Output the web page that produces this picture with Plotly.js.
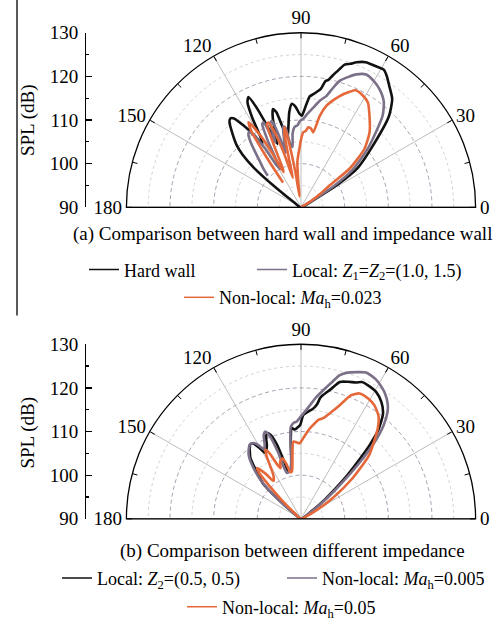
<!DOCTYPE html>
<html><head><meta charset="utf-8">
<script src="https://cdn.plot.ly/plotly-3.0.1.min.js"></script>
<style>html,body{margin:0;padding:0;background:#fff}#chart{width:499px;height:626px}</style>
</head><body><div id="chart"></div>
<script>
const W = 499, H = 626;
const FONT = '"Liberation Serif", "Times New Roman", serif';

// ---- tick labels ----
const angleTicks = [0, 30, 60, 90, 120, 150, 180];
const splTicks = [90, 100, 110, 120, 130];

// ---- legend names ----
const nameHard = 'Hard wall';
const nameLocalA = 'Local: <i>Z</i><sub>1</sub>=<i>Z</i><sub>2</sub>=(1.0, 1.5)';
const nameNonlocalA = 'Non-local: <i>Ma</i><sub>h</sub>=0.023';
const nameLocalB = 'Local: <i>Z</i><sub>2</sub>=(0.5, 0.5)';
const nameNonlocalB1 = 'Non-local: <i>Ma</i><sub>h</sub>=0.005';
const nameNonlocalB2 = 'Non-local: <i>Ma</i><sub>h</sub>=0.05';

// ---- (a) Hard wall ----
const thetaAHard = [28,30,32,35,40,46,50,54,57,59,62,66,69,71,73,74.5,76,77,78,79,80.5,82,84,85.5,87.5,89.5,91,93,95,97,99,101,103,104.5,106,107.5,109,110.5,112.5,114,115.5,117,118.5,120,121.5,123,125,127,128.5,130,133,136,138,140,142,144,146];
const rAHard     = [90,93,100,106,111,119,122.5,124.4,126,126.8,126.6,126.4,125.6,124.8,124.2,122.8,121.5,120.6,119.8,119.5,117.5,116.8,116,115.5,113,111,111.5,113,113.8,112,108.5,106.3,109,112.5,113.4,111.5,108,105.5,110,115,118,117,113.5,108.5,107,109.7,112.8,115.5,116,115.5,113,110.5,108,104,97,92,90];

// ---- (a) Local Z1=Z2=(1.0,1.5) ----
const thetaALocal = [29,31,33,36,41.2,48.3,52,56.4,60,63.9,67.4,70,73,75,77.1,80,83,86,88.5,90.6,92.5,94.5,96.5,98,99.5,101,102.5,104,105.5,107,108.6,110,111.5,112.5,113.7,115,116.5,118.5,120,121.5,123,124.5,126,128,130,132,134,136.5];
const rALocal     = [90,93,99,104.5,110.3,118.1,120.8,122.5,123.4,123.9,123,121.8,120.3,118.3,116.2,114.8,113,111.5,110.3,109.8,108.8,108.5,107,104,104.5,108.5,109,106,103,107,110.9,110.5,106,107,111.3,111,107,100,101,106,109.5,111,110.5,108.5,106,104,102.5,100.5];

// ---- (a) Non-local Ma_h=0.023 ----
const thetaANonlocal = [29,32,35,37.6,38.5,42.7,47.6,53.2,57.5,62,65,67.2,70.8,73.5,75.9,78.4,80.8,82.8,84.8,86.5,88.3,90,91.5,93,94.5,96,97.5,99,100.5,101.5,102.8,104,105.5,107.5,109.5,111,112.2,113.5,115,116.5,118,119.5,121.6,123,124.5,126];
const rANonlocal     = [90,92.5,95.5,98.3,104.2,109.8,113.3,116.2,118.5,119.4,119.6,118.7,117,115.5,114,111.4,107.4,108.2,108.4,107.5,107.2,105.5,103.5,102,100.5,96,92.5,98,105,108.7,107,101,97,103,108.5,110.8,110.6,106,100,99,104,109,112.9,111,104,97];

// ---- (b) Local Z2=(0.5,0.5) ----
const thetaBLocal = [30,36,39,41,43,45,47,49,52,55.5,59.4,63,66,68,71,74.2,77,79.9,81,82,83.7,85.5,88.7,90.5,92.7,94,95.8,97.5,99,101,104.8,106.5,108,110,111.7,113.5,115,118.5,120.5,122.9,125,127,129.8,132,135,137.4,139,140.3,142,143];
const rBLocal     = [90,93,97,100,104,108,113,117,120.5,122.5,123.8,124.2,124.3,123.7,123.2,122.6,120.5,118.8,118,116.5,115.4,114.8,113.8,111.5,110.8,110.5,110.9,108,104,101.5,101.3,104,108,110.5,111.1,110,108.5,107.2,109,110.6,110.5,109.5,108.1,106,103.5,101.6,98,95.2,92,90];

// ---- (b) Non-local Ma_h=0.005 ----
const thetaBNonlocal1 = [30,35,38,40,42,44,46,48.5,51,53,56,58.9,62,66,69,72.8,75,77,80.2,83,85.5,88,90,92.5,94.6,96.5,98,100,103,107.2,109,110.5,112.2,114,116,118,120,122,124.3,127.8,130,133,136,138,140,142,143.5];
const rBNonlocal1     = [90,93,97,100,104,109,114,118.5,121.5,123,124.5,125.5,126.3,126.7,126,125,124,122.3,119.9,118,116.1,114.5,113.5,112.3,112,111,107,103,101.2,101,106,110,111.6,111,109,108,109.5,110.5,110.7,109.6,108.5,106,103,100,96,92,90];

// ---- (b) Non-local Ma_h=0.05 ----
const thetaBNonlocal2 = [27,29,33.4,38.3,43.2,49.7,53,57.2,61,65,68,71.2,74,77.6,80,82.6,85,88.4,91,93,95.6,97.5,99.5,101,103,105,107,109.9,112,114,115.5,117.3,119,121,123,126,128,130.8,132.5,134,136,138,139];
const rBNonlocal2     = [90,94,98.8,105.1,111.5,117.2,119.5,121,121.6,121.7,120.5,117.5,115.5,113.6,113,111.7,110.5,108.5,107.3,107.5,107.8,105,102,101,101,103,104.5,104,102.5,104,106.5,107.8,106,103,101.5,100.7,103,105.4,104,100,96,92,90];

// ---- colours ----
const cBlack = '#111111';
const cGray = '#7b7088';
const cOrange = '#e4683a';

const px = x => x / W;
const py = y => 1 - y / H;

function polarLayout(yTop, yBot) {
  return {
    domain: {x: [px(125), px(477)], y: [py(yBot), py(yTop)]},
    sector: [0, 180],
    bgcolor: 'rgba(0,0,0,0)',
    radialaxis: {range: [90, 130], tickvals: [100, 110, 120], showticklabels: false, ticks: '',
      showline: false, gridcolor: '#9f95aa', griddash: '4px,3px', gridwidth: 0.9},
    angularaxis: {tickvals: angleTicks, ticktext: angleTicks.map(String), ticks: 'inside', ticklen: 5,
      tickcolor: '#000', showline: true, linecolor: '#000', linewidth: 1.3,
      gridcolor: '#bdbdbd', gridwidth: 1, direction: 'counterclockwise', rotation: 0,
      tickfont: {family: FONT, size: 19, color: '#000'}}
  };
}

const traces = [];
// light intermediate circles, baseline and minor angular ticks (decoration)
function decor(sub) {
  [95, 105, 115, 125].forEach(rv => {
    const th = [], rr = [];
    for (let a = 0; a <= 180; a += 2) { th.push(a); rr.push(rv); }
    traces.push({type: 'scatterpolar', subplot: sub, theta: th, r: rr, mode: 'lines',
      line: {color: '#d2d2d2', width: 1, dash: 'dot'}, showlegend: false, hoverinfo: 'skip'});
  });
  traces.push({type: 'scatterpolar', subplot: sub, theta: [0, 0, null, 180, 180], r: [130, 90, null, 90, 130], mode: 'lines',
    line: {color: '#8a8a8a', width: 1.2}, showlegend: false, hoverinfo: 'skip'});
  const th = [], rr = [];
  for (let a = 15; a < 180; a += 30) { th.push(a, a, null); rr.push(128.8, 130, null); }
  traces.push({type: 'scatterpolar', subplot: sub, theta: th, r: rr, mode: 'lines',
    line: {color: '#000', width: 1}, showlegend: false, hoverinfo: 'skip'});
}
decor('polar');
decor('polar2');

function curve(sub, th, r, name, color, leg) {
  traces.push({type: 'scatterpolar', subplot: sub, theta: th, r: r, mode: 'lines', name: name,
    line: {color: color, width: 2.6, shape: 'spline', smoothing: 0.6}, showlegend: false, hoverinfo: 'skip'});
  // legend entry with the thinner legend line of the reference
  traces.push({type: 'scatterpolar', subplot: sub, theta: [null], r: [null], mode: 'lines', name: name,
    line: {color: color, width: 1.5}, legend: leg, showlegend: true, hoverinfo: 'skip'});
}
curve('polar', thetaAHard, rAHard, nameHard, cBlack, 'legend');
curve('polar', thetaALocal, rALocal, nameLocalA, cGray, 'legend2');
curve('polar', thetaANonlocal, rANonlocal, nameNonlocalA, cOrange, 'legend3');
curve('polar2', thetaBLocal, rBLocal, nameLocalB, cBlack, 'legend4');
curve('polar2', thetaBNonlocal1, rBNonlocal1, nameNonlocalB1, cGray, 'legend5');
curve('polar2', thetaBNonlocal2, rBNonlocal2, nameNonlocalB2, cOrange, 'legend6');

// dummy cartesian traces to host the SPL axes
traces.push({type: 'scatter', x: [null], y: [null], xaxis: 'x', yaxis: 'y', showlegend: false, hoverinfo: 'skip'});
traces.push({type: 'scatter', x: [null], y: [null], xaxis: 'x2', yaxis: 'y2', showlegend: false, hoverinfo: 'skip'});

function splAxis(yTop, yBot) {
  return {domain: [py(yBot), py(yTop)], range: [90, 130], tickvals: splTicks, anchor: 'free', position: px(85),
    ticks: 'inside', ticklen: 6, tickwidth: 1.3, tickcolor: '#000', showline: true, linecolor: '#000', linewidth: 1.3,
    ticklabelstandoff: 3,
    minor: {tickvals: [95, 105, 115, 125], ticks: 'inside', ticklen: 3, tickwidth: 1.2, tickcolor: '#000'},
    showgrid: false, zeroline: false, fixedrange: true, tickfont: {family: FONT, size: 19, color: '#000'}};
}
function hidX(d) { return {domain: d, visible: false, fixedrange: true}; }

function leg(x, yc) {
  return {x: px(x), xanchor: 'left', y: py(yc), yanchor: 'middle', orientation: 'h', bgcolor: 'rgba(0,0,0,0)',
    borderwidth: 0, font: {family: FONT, size: 18, color: '#000'}, itemwidth: 30, tracegroupgap: 0};
}

const layout = {
  width: W, height: H, margin: {l: 0, r: 0, t: 0, b: 0},
  paper_bgcolor: '#fff', plot_bgcolor: 'rgba(0,0,0,0)',
  font: {family: FONT, size: 18, color: '#000'},
  showlegend: true,
  polar: polarLayout(33, 209),
  polar2: polarLayout(347, 523),
  xaxis: hidX([0.3, 0.4]), xaxis2: hidX([0.3, 0.4]),
  yaxis: splAxis(33, 209), yaxis2: splAxis(347, 523),
  legend: leg(84, 272), legend2: leg(252, 272), legend3: leg(179, 300),
  legend4: leg(57, 583), legend5: leg(282, 583), legend6: leg(182, 612),
  annotations: [
    {text: '(a) Comparison between hard wall and impedance wall', x: px(282), y: py(236), xref: 'paper', yref: 'paper',
      showarrow: false, xanchor: 'center', yanchor: 'middle', font: {family: FONT, size: 19, color: '#000'}},
    {text: '(b) Comparison between different impedance', x: px(292), y: py(555), xref: 'paper', yref: 'paper',
      showarrow: false, xanchor: 'center', yanchor: 'middle', font: {family: FONT, size: 19, color: '#000'}},
    {text: 'SPL (dB)', x: px(28), y: py(121), xref: 'paper', yref: 'paper', textangle: -90,
      showarrow: false, xanchor: 'center', yanchor: 'middle', font: {family: FONT, size: 19, color: '#000'}},
    {text: 'SPL (dB)', x: px(28), y: py(436), xref: 'paper', yref: 'paper', textangle: -90,
      showarrow: false, xanchor: 'center', yanchor: 'middle', font: {family: FONT, size: 19, color: '#000'}}
  ],
  shapes: [
    {type: 'line', xref: 'paper', yref: 'paper', x0: px(17), x1: px(17), y0: py(0), y1: py(318),
      line: {color: '#222', width: 1.5}}
  ]
};

Plotly.newPlot('chart', traces, layout, {staticPlot: true, displayModeBar: false});
</script>
</body></html>
